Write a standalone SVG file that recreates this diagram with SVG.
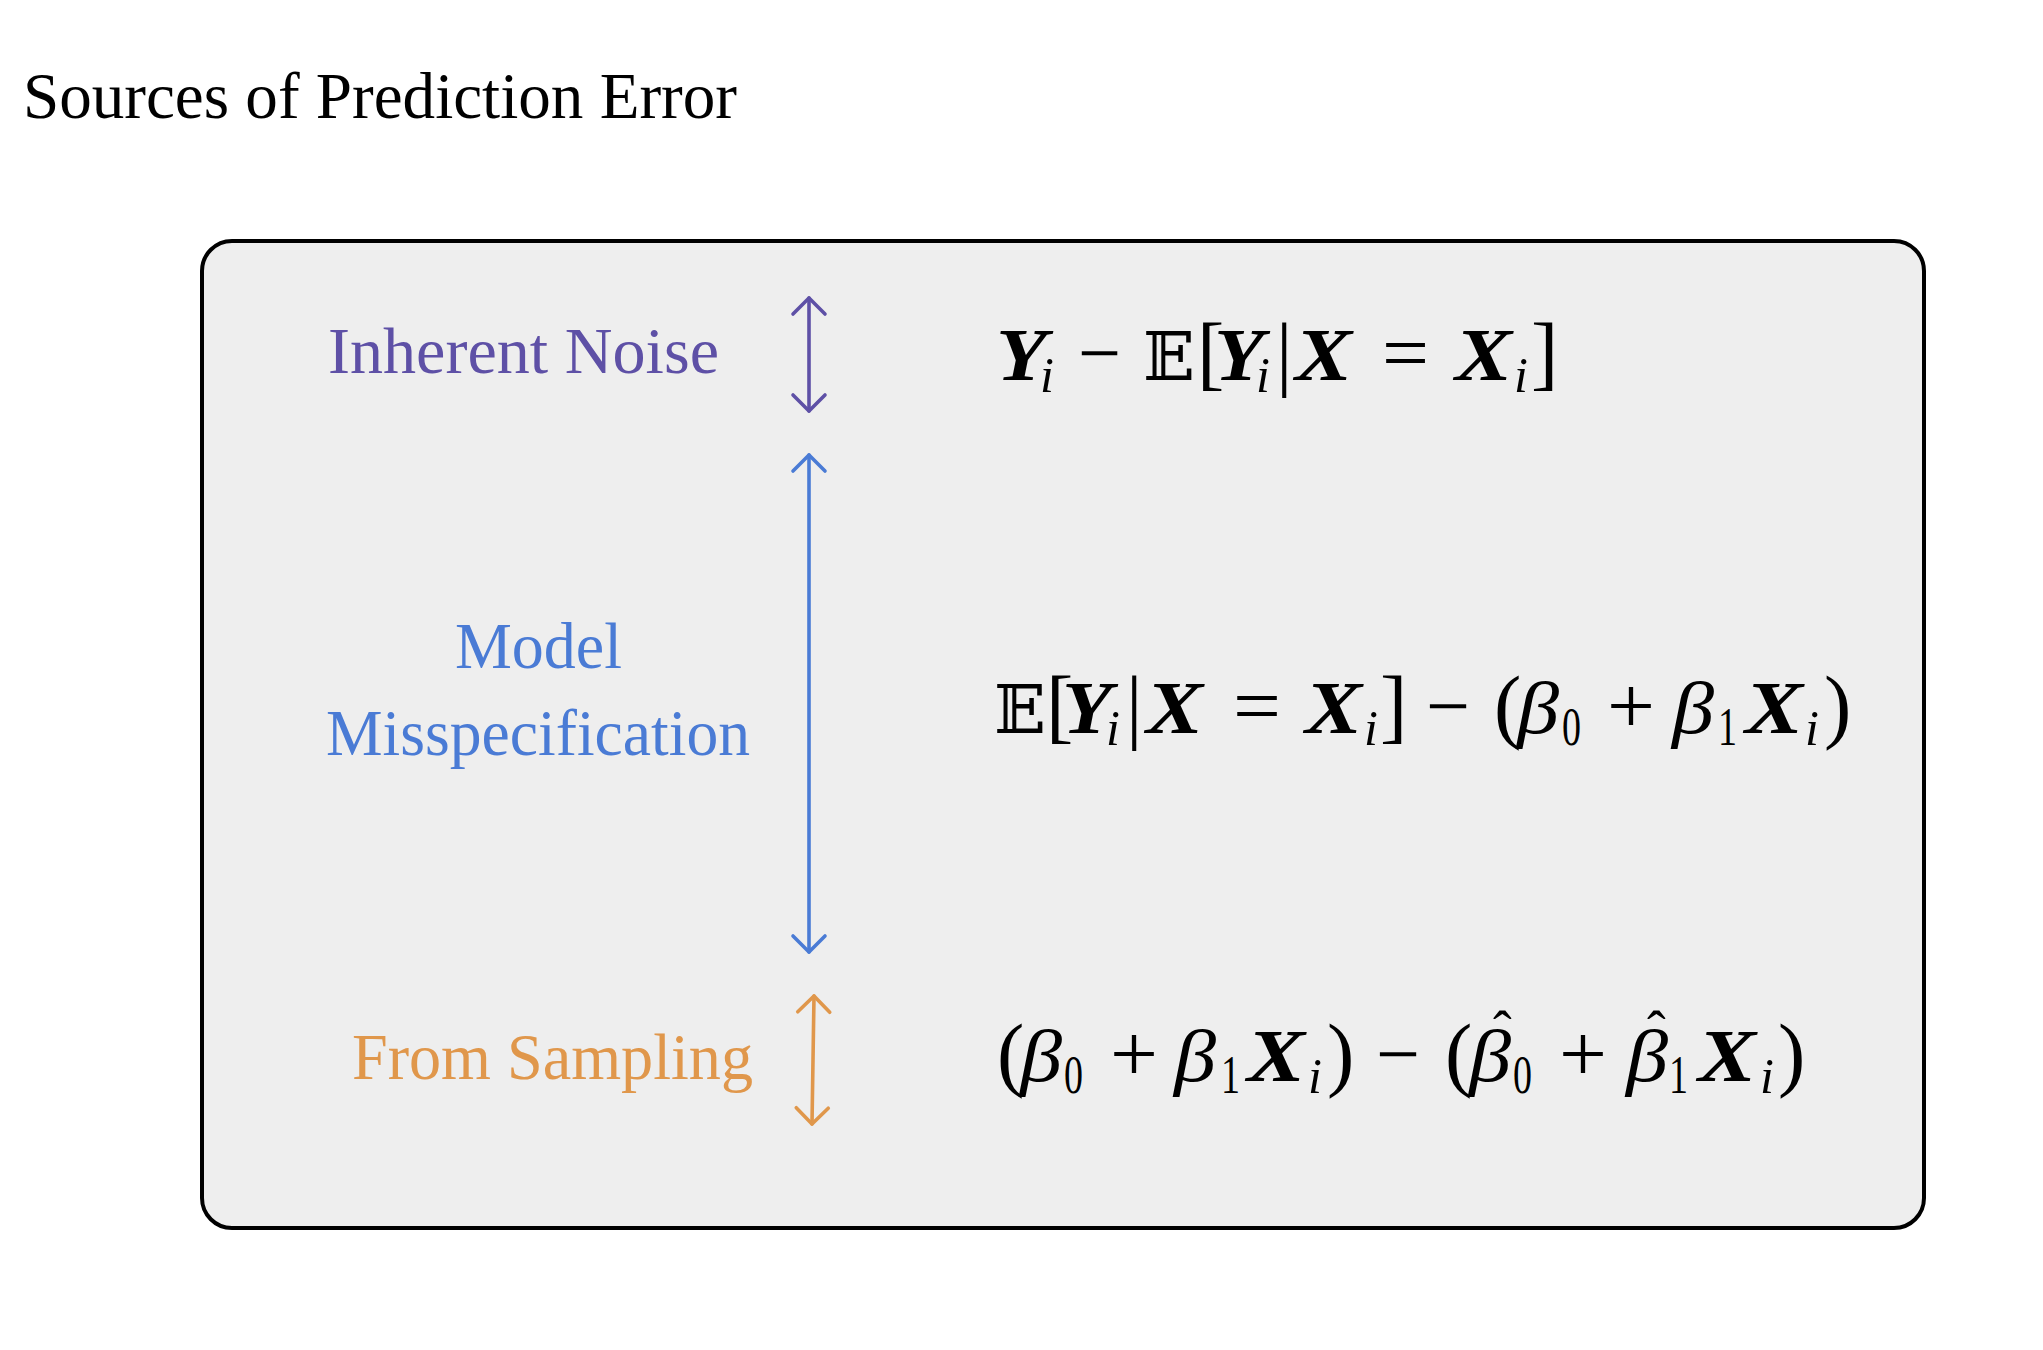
<svg xmlns="http://www.w3.org/2000/svg" width="2043" height="1350" viewBox="0 0 2043 1350">
<style>
.title{font-family:"Liberation Serif",serif;font-size:65.5px;fill:#000}
.lbl{font-family:"Liberation Serif",serif;font-size:65px}
.purple{fill:#5E50A6}
.blue{fill:#4A7BD5}
.orange{fill:#E0974B}
.math{font-family:"Liberation Serif","DejaVu Serif",serif;font-size:74px;fill:#000}
.bi{font-weight:bold;font-style:italic}
.it{font-style:italic}
.sub{font-size:50px}
.num{font-size:54px}
.op{font-size:80px}
.big{font-size:82px}
.hat{font-size:56px}
.ds{font-family:"DejaVu Serif","DejaVu Sans",serif;font-size:68px}
.arrow{fill:none;stroke-width:3.6;stroke-linecap:round}
</style>
<defs>
<marker id="head-purple" markerUnits="userSpaceOnUse" markerWidth="40" markerHeight="40" viewBox="-20 -20 40 40" refX="0" refY="0" orient="auto-start-reverse" overflow="visible"><path d="M-16,-16 L0,0 L-16,16" fill="none" stroke="#5E50A6" stroke-width="3.6" stroke-linecap="round" stroke-linejoin="round"/></marker>
<marker id="head-blue" markerUnits="userSpaceOnUse" markerWidth="40" markerHeight="40" viewBox="-20 -20 40 40" refX="0" refY="0" orient="auto-start-reverse" overflow="visible"><path d="M-16,-16 L0,0 L-16,16" fill="none" stroke="#4A7BD5" stroke-width="3.6" stroke-linecap="round" stroke-linejoin="round"/></marker>
<marker id="head-orange" markerUnits="userSpaceOnUse" markerWidth="40" markerHeight="40" viewBox="-20 -20 40 40" refX="0" refY="0" orient="auto-start-reverse" overflow="visible"><path d="M-16,-16 L0,0 L-16,16" fill="none" stroke="#E0974B" stroke-width="3.6" stroke-linecap="round" stroke-linejoin="round"/></marker>
</defs>
<rect width="2043" height="1350" fill="#ffffff"/>
<text class="title" x="23" y="118" textLength="714" lengthAdjust="spacingAndGlyphs">Sources of Prediction Error</text>
<g id="panel">
<rect x="202" y="241" width="1722" height="987" rx="30" ry="30" fill="#EEEEEE" stroke="#000" stroke-width="4"/>
</g>
<g id="label-noise"><text class="lbl purple" x="328" y="373" textLength="391" lengthAdjust="spacingAndGlyphs">Inherent Noise</text></g>
<g id="label-model">
<text class="lbl blue" x="455" y="668" textLength="167" lengthAdjust="spacingAndGlyphs">Model</text>
<text class="lbl blue" x="326" y="755" textLength="424" lengthAdjust="spacingAndGlyphs">Misspecification</text>
</g>
<g id="label-sampling"><text class="lbl orange" x="352" y="1079" textLength="401" lengthAdjust="spacingAndGlyphs">From Sampling</text></g>
<g id="connectors">
<path class="arrow" stroke="#5E50A6" d="M809,298 L809,411" marker-start="url(#head-purple)" marker-end="url(#head-purple)"/>
<path class="arrow" stroke="#4A7BD5" d="M809,455 L809,952" marker-start="url(#head-blue)" marker-end="url(#head-blue)"/>
<path class="arrow" stroke="#E0974B" d="M814,996 L812,1124" marker-start="url(#head-orange)" marker-end="url(#head-orange)"/>
</g>
<g id="formula-noise">
<text class="math" y="380"><tspan class="bi" x="996" textLength="51" lengthAdjust="spacingAndGlyphs">Y</tspan><tspan class="it sub" x="1040" y="392">i</tspan><tspan class="op" x="1078" y="380" textLength="43" lengthAdjust="spacingAndGlyphs">−</tspan><tspan class="ds" x="1143">𝔼</tspan><tspan class="big" x="1197">[</tspan><tspan class="bi" x="1214" textLength="50" lengthAdjust="spacingAndGlyphs">Y</tspan><tspan class="it sub" x="1256" y="392">i</tspan><tspan class="big" x="1276" y="380">|</tspan><tspan class="bi" x="1295" textLength="57" lengthAdjust="spacingAndGlyphs">X</tspan><tspan class="op" x="1382" textLength="47" lengthAdjust="spacingAndGlyphs">=</tspan><tspan class="bi" x="1455" textLength="57" lengthAdjust="spacingAndGlyphs">X</tspan><tspan class="it sub" x="1514" y="392">i</tspan><tspan class="big" x="1531" y="380">]</tspan></text>
</g>
<g id="formula-model">
<text class="math" y="733"><tspan class="ds" x="994">𝔼</tspan><tspan class="big" x="1046">[</tspan><tspan class="bi" x="1062" textLength="50" lengthAdjust="spacingAndGlyphs">Y</tspan><tspan class="it sub" x="1106" y="745">i</tspan><tspan class="big" x="1126" y="733">|</tspan><tspan class="bi" x="1146" textLength="57" lengthAdjust="spacingAndGlyphs">X</tspan><tspan class="op" x="1233" textLength="48" lengthAdjust="spacingAndGlyphs">=</tspan><tspan class="bi" x="1305" textLength="57" lengthAdjust="spacingAndGlyphs">X</tspan><tspan class="it sub" x="1364" y="745">i</tspan><tspan class="big" x="1380" y="733">]</tspan><tspan class="op" x="1426" textLength="44" lengthAdjust="spacingAndGlyphs">−</tspan><tspan class="big" x="1494">(</tspan><tspan class="it" x="1517" textLength="42" lengthAdjust="spacingAndGlyphs">β</tspan><tspan class="num" x="1562" y="745" textLength="19" lengthAdjust="spacingAndGlyphs">0</tspan><tspan class="op" x="1607" y="733" textLength="48" lengthAdjust="spacingAndGlyphs">+</tspan><tspan class="it" x="1672" textLength="42" lengthAdjust="spacingAndGlyphs">β</tspan><tspan class="num" x="1718" y="745" textLength="19" lengthAdjust="spacingAndGlyphs">1</tspan><tspan class="bi" x="1745" y="733" textLength="58" lengthAdjust="spacingAndGlyphs">X</tspan><tspan class="it sub" x="1805" y="745">i</tspan><tspan class="big" x="1824" y="733">)</tspan></text>
</g>
<g id="formula-sampling">
<text class="math" y="1081"><tspan class="big" x="997">(</tspan><tspan class="it" x="1020" textLength="42" lengthAdjust="spacingAndGlyphs">β</tspan><tspan class="num" x="1064" y="1093" textLength="19" lengthAdjust="spacingAndGlyphs">0</tspan><tspan class="op" x="1110" y="1081" textLength="48" lengthAdjust="spacingAndGlyphs">+</tspan><tspan class="it" x="1174" textLength="42" lengthAdjust="spacingAndGlyphs">β</tspan><tspan class="num" x="1221" y="1093" textLength="19" lengthAdjust="spacingAndGlyphs">1</tspan><tspan class="bi" x="1247" y="1081" textLength="58" lengthAdjust="spacingAndGlyphs">X</tspan><tspan class="it sub" x="1308" y="1093">i</tspan><tspan class="big" x="1327" y="1081">)</tspan><tspan class="op" x="1376" textLength="44" lengthAdjust="spacingAndGlyphs">−</tspan><tspan class="big" x="1445">(</tspan><tspan class="it" x="1469" textLength="42" lengthAdjust="spacingAndGlyphs">β</tspan><tspan class="hat" x="1493" y="1050">ˆ</tspan><tspan class="num" x="1513" y="1093" textLength="19" lengthAdjust="spacingAndGlyphs">0</tspan><tspan class="op" x="1559" y="1081" textLength="48" lengthAdjust="spacingAndGlyphs">+</tspan><tspan class="it" x="1626" textLength="42" lengthAdjust="spacingAndGlyphs">β</tspan><tspan class="hat" x="1647" y="1050">ˆ</tspan><tspan class="num" x="1669" y="1093" textLength="19" lengthAdjust="spacingAndGlyphs">1</tspan><tspan class="bi" x="1698" y="1081" textLength="58" lengthAdjust="spacingAndGlyphs">X</tspan><tspan class="it sub" x="1760" y="1093">i</tspan><tspan class="big" x="1778" y="1081">)</tspan></text>
</g>
</svg>
